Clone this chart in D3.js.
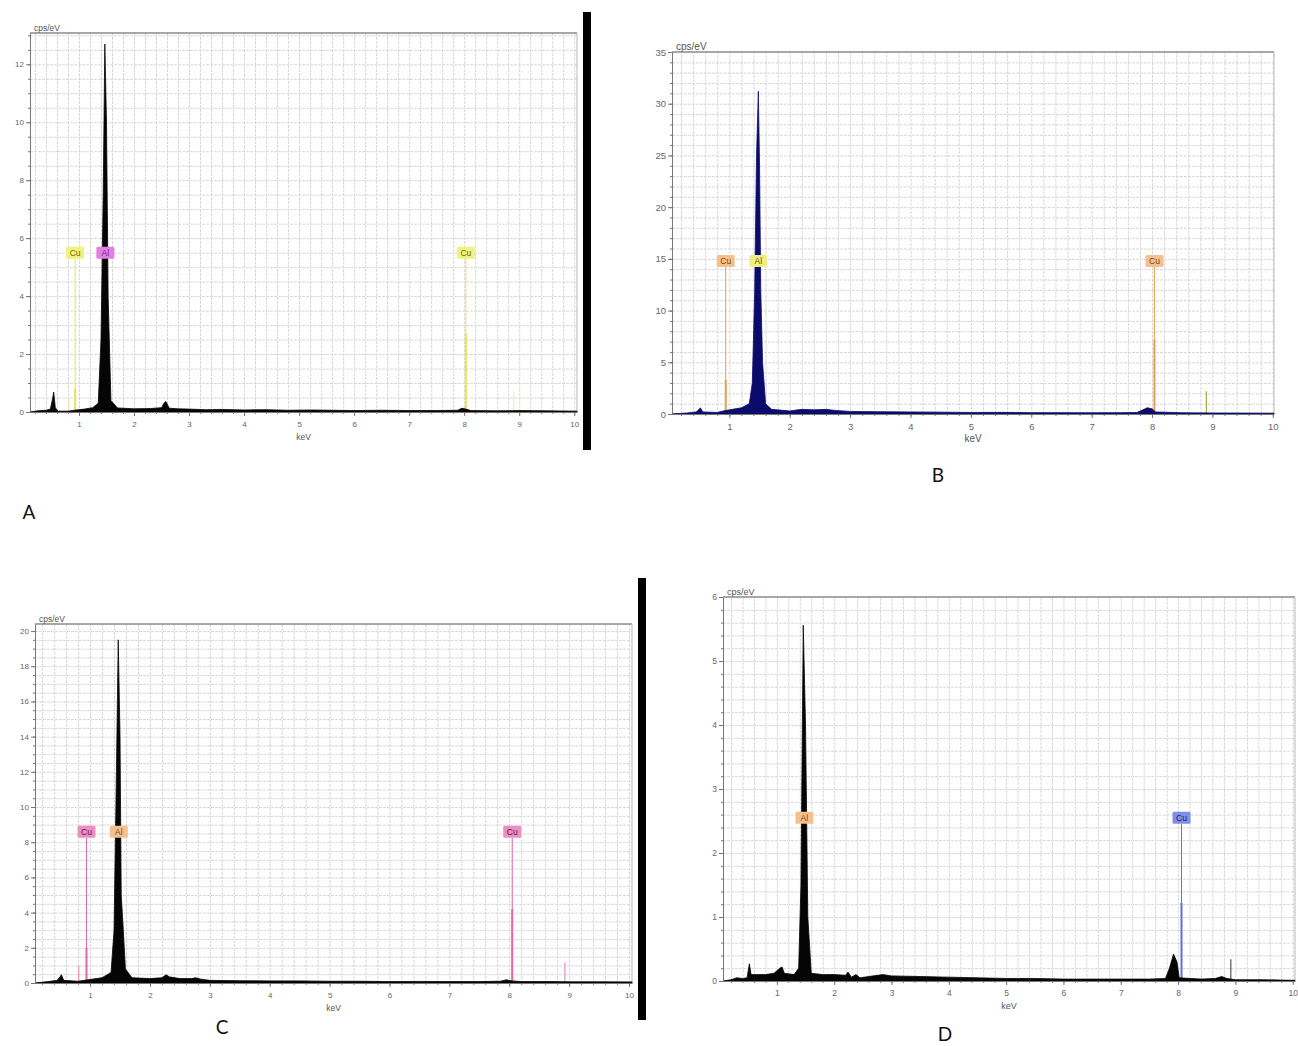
<!DOCTYPE html>
<html>
<head>
<meta charset="utf-8">
<script src="https://cdn.jsdelivr.net/npm/d3@7/dist/d3.min.js"></script>
<style>
	body { margin: 0; background: #fff; }
	svg { display: block; font-family: 'Liberation Sans', Arial, sans-serif; }
	.grid line { stroke: #d8d8d8; stroke-dasharray: 3,1; }
	.grid path { display: none; }
	.tick text { fill: #666; }
	.axis path { stroke: #777; }
	.axis line { stroke: #777; }
</style>
</head>
<body>
<svg id="chart" width="1298" height="1046"></svg>
<script>
// --- data (keV, cps/eV) ---
const xTicks = [1, 2, 3, 4, 5, 6, 7, 8, 9, 10];
const yTicksA = [0, 2, 4, 6, 8, 10, 12];
const yTicksB = [0, 5, 10, 15, 20, 25, 30, 35];
const yTicksC = [0, 2, 4, 6, 8, 10, 12, 14, 16, 18, 20];
const yTicksD = [0, 1, 2, 3, 4, 5, 6];

const spectrumA = [
	[0.11, 0], [0.25, 0.04], [0.4, 0.06], [0.48, 0.1], [0.52, 0.45], [0.54, 0.69], [0.57, 0.15],
	[0.62, 0.03], [0.8, 0.03], [0.95, 0.07], [1.1, 0.1], [1.25, 0.15], [1.35, 0.3], [1.4, 2.5],
	[1.44, 7.5], [1.47, 12.7], [1.5, 10], [1.53, 4], [1.58, 0.4], [1.7, 0.14], [2.0, 0.11],
	[2.3, 0.12], [2.5, 0.15], [2.55, 0.32], [2.58, 0.36], [2.64, 0.13], [2.8, 0.11], [3.0, 0.1],
	[3.3, 0.08], [3.6, 0.09], [4.0, 0.07], [4.4, 0.08], [4.8, 0.06], [5.2, 0.07], [5.6, 0.06],
	[6.0, 0.05], [6.5, 0.06], [7.0, 0.05], [7.5, 0.05], [7.88, 0.06], [7.96, 0.13], [8.03, 0.1],
	[8.12, 0.05], [8.6, 0.04], [9.0, 0.05], [9.5, 0.04], [10.05, 0.03]
];
const spectrumB = [
	[0.05, 0], [0.3, 0.1], [0.45, 0.2], [0.5, 0.45], [0.52, 0.6], [0.56, 0.2], [0.8, 0.15],
	[0.9, 0.3], [1.0, 0.4], [1.2, 0.6], [1.33, 1.0], [1.38, 3], [1.42, 12], [1.45, 25],
	[1.48, 31.2], [1.5, 24], [1.52, 12], [1.55, 5], [1.6, 1], [1.7, 0.45], [2.0, 0.3],
	[2.2, 0.45], [2.4, 0.4], [2.6, 0.45], [2.75, 0.35], [3.0, 0.25], [3.5, 0.22], [4.0, 0.2],
	[4.5, 0.18], [5.0, 0.15], [5.5, 0.16], [6.0, 0.13], [6.5, 0.13], [7.0, 0.12], [7.5, 0.13],
	[7.75, 0.15], [7.85, 0.4], [7.92, 0.6], [8.0, 0.5], [8.06, 0.2], [8.5, 0.12], [9.0, 0.1],
	[9.5, 0.09], [10.02, 0.08]
];
const spectrumC = [
	[0.08, 0], [0.3, 0.08], [0.45, 0.15], [0.5, 0.35], [0.52, 0.47], [0.56, 0.15], [0.8, 0.1],
	[1.0, 0.2], [1.2, 0.3], [1.35, 0.6], [1.4, 3], [1.44, 12], [1.47, 19.5], [1.5, 14],
	[1.52, 5], [1.55, 3.3], [1.59, 0.8], [1.7, 0.3], [2.0, 0.25], [2.2, 0.3], [2.27, 0.47],
	[2.32, 0.35], [2.5, 0.25], [2.7, 0.25], [2.76, 0.3], [2.85, 0.22], [3.0, 0.15], [3.5, 0.13],
	[4.0, 0.12], [4.5, 0.12], [5.0, 0.1], [5.5, 0.1], [6.0, 0.08], [6.5, 0.09], [7.0, 0.08],
	[7.5, 0.08], [7.85, 0.1], [7.95, 0.18], [8.05, 0.12], [8.2, 0.08], [8.7, 0.08], [9.0, 0.07],
	[9.5, 0.07], [10.05, 0.06]
];
const spectrumD = [
	[0.06, 0], [0.2, 0.02], [0.3, 0.05], [0.4, 0.04], [0.48, 0.05], [0.52, 0.27], [0.55, 0.1],
	[0.65, 0.1], [0.8, 0.1], [0.95, 0.12], [1.05, 0.2], [1.09, 0.22], [1.13, 0.12], [1.3, 0.1],
	[1.38, 0.2], [1.42, 1.5], [1.46, 5.56], [1.5, 4], [1.54, 1.0], [1.6, 0.12], [1.8, 0.1],
	[2.0, 0.1], [2.2, 0.09], [2.24, 0.14], [2.3, 0.06], [2.38, 0.1], [2.45, 0.05], [2.6, 0.07],
	[2.85, 0.1], [3.0, 0.08], [3.5, 0.07], [4.0, 0.06], [4.5, 0.05], [5.0, 0.04], [5.5, 0.04],
	[6.0, 0.03], [6.5, 0.03], [7.0, 0.03], [7.5, 0.03], [7.78, 0.04], [7.85, 0.2], [7.92, 0.42],
	[7.98, 0.3], [8.02, 0.05], [8.4, 0.03], [8.65, 0.04], [8.76, 0.07], [8.85, 0.04], [9.0, 0.02],
	[9.5, 0.02], [10.04, 0.01]
];

// element lines: position, label height and height of the solid part
const markersA = [
	{ el: 'kb', keV: 0.82, label: null, solid: 0.5 },
	{ el: 'Cu', keV: 0.93, label: 5.5, solid: 0.8 },
	{ el: 'Al', keV: 1.48, label: 5.5, solid: 0 },
	{ el: 'Cu', keV: 8.03, label: 5.5, solid: 2.7 },
	{ el: 'kb', keV: 8.9, label: null, solid: 0.7 }
];
const markersB = [
	{ el: 'Cu', keV: 0.94, label: 14.8, solid: 3.3 },
	{ el: 'Al', keV: 1.48, label: 14.8, solid: 0 },
	{ el: 'Cu', keV: 8.04, label: 14.8, solid: 7.2 },
	{ el: 'kb', keV: 8.9, label: null, solid: 2.2 }
];
const markersC = [
	{ el: 'kb', keV: 0.81, label: null, solid: 1.0 },
	{ el: 'Cu', keV: 0.94, label: 8.6, solid: 2.0 },
	{ el: 'Al', keV: 1.48, label: 8.6, solid: 0 },
	{ el: 'Cu', keV: 8.05, label: 8.6, solid: 4.2 },
	{ el: 'kb', keV: 8.93, label: null, solid: 1.17 }
];
const markersD = [
	{ el: 'Al', keV: 1.48, label: 2.55, solid: 0 },
	{ el: 'Cu', keV: 8.06, label: 2.55, solid: 1.22 },
	{ el: 'kb', keV: 8.92, label: null, solid: 0.34 }
];

// --- layout and styles ---
const panels = [
	{
		spectrum: spectrumA, markers: markersA, yTicks: yTicksA, yMinor: 0.5,
		xDomain: [0.11, 10.05], xRange: [30, 577], yDomain: [0, 13.08], yRange: [412, 33],
		fill: '#050505', fs: 8, letter: 'A', letterPos: [29, 519],
		colors: { Cu: ['#e4e45a', '#f1f17e', '#6b6b10'], Al: ['#d060d0', '#e27fe2', '#7a207a'], kb: ['#eeeeaa'] }
	},
	{
		spectrum: spectrumB, markers: markersB, yTicks: yTicksB, yMinor: 1,
		xDomain: [0.05, 10.02], xRange: [672, 1274], yDomain: [0, 35], yRange: [414, 52],
		fill: '#0b0b6b', fs: 9.5, letter: 'B', letterPos: [938, 482],
		colors: { Cu: ['#e8a050', '#f4c18e', '#7a4510'], Al: ['#e6e060', '#f0ee82', '#5a5a10'], kb: ['#9ab040'] }
	},
	{
		spectrum: spectrumC, markers: markersC, yTicks: yTicksC, yMinor: 0.5,
		xDomain: [0.08, 10.05], xRange: [35, 632], yDomain: [0, 20.4], yRange: [983, 624],
		fill: '#050505', fs: 8, letter: 'C', letterPos: [222, 1034],
		colors: { Cu: ['#dc68a8', '#e98fc2', '#6a1040'], Al: ['#e8a050', '#f4c18e', '#7a4510'], kb: ['#e890c0'] }
	},
	{
		spectrum: spectrumD, markers: markersD, yTicks: yTicksD, yMinor: 0.2,
		xDomain: [0.06, 10.04], xRange: [723, 1295], yDomain: [0, 6], yRange: [981, 597],
		fill: '#050505', fs: 8.5, letter: 'D', letterPos: [945, 1041],
		colors: { Cu: ['#6070d8', '#7f8fe8', '#1a2070'], Al: ['#e8a050', '#f4c18e', '#7a4510'], kb: ['#555555'] }
	}
];

const separators = [
	{ x: 583, y: 12, w: 8, h: 438 },
	{ x: 638, y: 578, w: 8, h: 442 }
];

const svg = d3.select('#chart');

function drawPanel(p) {
	const x = d3.scaleLinear().domain(p.xDomain).range(p.xRange);
	const y = d3.scaleLinear().domain(p.yDomain).range(p.yRange);
	const [left, right] = p.xRange;
	const [bottom, top] = p.yRange;
	const g = svg.append('g');

	// grid
	const xGrid = d3.range(0.2, 10.01, 0.2).filter(v => v > p.xDomain[0] && v < p.xDomain[1]);
	const yGrid = d3.range(p.yMinor, p.yDomain[1], p.yMinor);
	g.append('g')
		.attr('class', 'grid')
		.attr('transform', `translate(0,${bottom})`)
		.call(d3.axisBottom(x).tickValues(xGrid).tickSize(-(bottom - top)).tickFormat(''));
	g.append('g')
		.attr('class', 'grid')
		.attr('transform', `translate(${left},0)`)
		.call(d3.axisLeft(y).tickValues(yGrid).tickSize(-(right - left)).tickFormat(''));

	// frame
	g.append('line').attr('x1', left).attr('x2', right).attr('y1', top).attr('y2', top)
		.attr('stroke', '#8a8a8a').attr('stroke-width', 1.6);
	g.append('line').attr('x1', right).attr('x2', right).attr('y1', top).attr('y2', bottom)
		.attr('stroke', '#c4c4c4').attr('stroke-width', 1.2);

	// element lines (under spectrum)
	p.markers.forEach(m => {
		const c = p.colors[m.el];
		const xm = x(m.keV);
		if (m.label != null) {
			g.append('line').attr('x1', xm).attr('x2', xm).attr('y1', y(0)).attr('y2', y(m.label) + 6)
				.attr('stroke', c[0]).attr('stroke-width', 1);
		}
		if (m.solid > 0) {
			g.append('line').attr('x1', xm).attr('x2', xm).attr('y1', y(0)).attr('y2', y(m.solid))
				.attr('stroke', c[0]).attr('stroke-width', m.label != null ? 2 : 1.2);
		}
	});

	// spectrum
	const area = d3.area().x(d => x(d[0])).y0(y(0)).y1(d => y(d[1]));
	g.append('path').datum(p.spectrum).attr('d', area)
		.attr('fill', p.fill).attr('stroke', p.fill).attr('stroke-width', 0.8);

	// axes
	const yAxis = g.append('g')
		.attr('class', 'axis')
		.attr('transform', `translate(${left},0)`)
		.call(d3.axisLeft(y).tickValues(p.yTicks).tickFormat(d3.format('d'))
			.tickSize(4).tickSizeOuter(0).tickPadding(2));
	yAxis.selectAll('text').attr('font-size', p.fs);
	g.append('g')
		.attr('class', 'axis')
		.attr('transform', `translate(${left},0)`)
		.call(d3.axisLeft(y).tickValues(yGrid).tickSize(2).tickSizeOuter(0).tickFormat(''))
		.select('.domain').remove();

	const xAxis = g.append('g')
		.attr('class', 'axis')
		.attr('transform', `translate(0,${bottom})`)
		.call(d3.axisBottom(x).tickValues(xTicks).tickFormat(d3.format('d'))
			.tickSize(4).tickSizeOuter(0).tickPadding(5));
	xAxis.selectAll('text').attr('font-size', p.fs);
	xAxis.select('.domain').attr('stroke', '#444');
	g.append('g')
		.attr('class', 'axis')
		.attr('transform', `translate(0,${bottom})`)
		.call(d3.axisBottom(x).tickValues(xGrid).tickSize(2).tickFormat(''))
		.select('.domain').remove();

	// axis titles
	g.append('text').attr('x', left + 4).attr('y', top - 2)
		.attr('font-size', p.fs + 0.5).attr('fill', '#555').text('cps/eV');
	g.append('text').attr('x', (left + right) / 2).attr('y', bottom + 28)
		.attr('text-anchor', 'middle').attr('font-size', p.fs + 0.5).attr('fill', '#555').text('keV');

	// element labels
	p.markers.filter(m => m.label != null).forEach(m => {
		const c = p.colors[m.el];
		const xm = x(m.keV);
		const ym = y(m.label);
		const w = 18;
		const h = 12;
		g.append('rect').attr('x', xm - w / 2).attr('y', ym - h / 2).attr('width', w).attr('height', h)
			.attr('rx', 1.5).attr('fill', c[1]);
		g.append('text').attr('x', xm).attr('y', ym + 3).attr('text-anchor', 'middle')
			.attr('font-size', 8.5).attr('fill', c[2]).text(m.el);
	});

	// panel letter
	svg.append('text').attr('x', p.letterPos[0]).attr('y', p.letterPos[1])
		.attr('text-anchor', 'middle').attr('font-family', 'Lato, "Open Sans", sans-serif')
		.attr('font-size', 19).attr('fill', '#111').text(p.letter);
}

panels.forEach(drawPanel);

svg.selectAll('rect.sep')
	.data(separators)
	.enter()
	.append('rect')
	.attr('class', 'sep')
	.attr('x', d => d.x)
	.attr('y', d => d.y)
	.attr('width', d => d.w)
	.attr('height', d => d.h)
	.attr('fill', '#000');
</script>
</body>
</html>
